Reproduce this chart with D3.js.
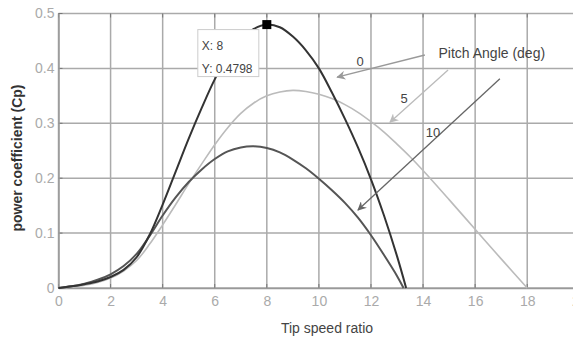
<!DOCTYPE html>
<html><head><meta charset="utf-8">
<script src="https://cdn.jsdelivr.net/npm/d3@7/dist/d3.min.js"></script>
<style>body{margin:0;background:#fff;overflow:hidden}svg{display:block}</style>
</head><body>
<script>
const xTicks = [0,2,4,6,8,10,12,14,16,18,20];
const yTicks = [0,0.1,0.2,0.3,0.4,0.5];
const yTickLabels = ["0","0.1","0.2","0.3","0.4","0.5"];
const x0 = [0,0.5,1,1.5,2,2.5,3,3.5,4,4.5,5,5.5,6,6.5,7,7.5,8,8.5,9,9.5,10,10.5,11,11.5,12,12.5,13,13.35];
const cp0 = [0,0.003,0.007,0.012,0.02,0.033,0.056,0.097,0.152,0.212,0.272,0.328,0.38,0.422,0.453,0.472,0.4798,0.475,0.458,0.433,0.40,0.356,0.308,0.256,0.198,0.132,0.058,0];
const x5 = [0,0.5,1,1.5,2,2.5,3,3.5,4,4.5,5,5.5,6,6.5,7,7.5,8,8.5,9,9.5,10,10.5,11,11.5,12,12.5,13,13.5,14,15,16,17,18];
const cp5 = [0,0.002,0.005,0.01,0.018,0.031,0.05,0.08,0.115,0.152,0.19,0.226,0.261,0.292,0.318,0.337,0.35,0.357,0.36,0.358,0.353,0.345,0.334,0.32,0.303,0.284,0.262,0.239,0.214,0.161,0.107,0.053,0];
const x10 = [0,0.5,1,1.5,2,2.5,3,3.5,4,4.5,5,5.5,6,6.5,7,7.5,8,8.5,9,9.5,10,10.5,11,11.5,12,12.5,13,13.25];
const cp10 = [0,0.003,0.008,0.015,0.025,0.04,0.062,0.095,0.132,0.165,0.193,0.216,0.235,0.249,0.256,0.258,0.255,0.247,0.234,0.218,0.199,0.178,0.155,0.128,0.096,0.06,0.022,0];
const peak = {x:8, y:0.4798};

const W=573,H=340;
const svg=d3.select("body").append("svg").attr("width",W).attr("height",H);
const x=d3.scaleLinear().domain([0,20]).range([58.5,579.3]);
const y=d3.scaleLinear().domain([0,0.5]).range([288,13.5]);
const gridC="#aaa";
const g=svg.append("g");
g.selectAll(".vg").data(xTicks).join("line").attr("x1",d=>x(d)).attr("x2",d=>x(d)).attr("y1",y(0.5)).attr("y2",y(0))
 .attr("stroke",gridC).attr("stroke-width",1.5);
g.selectAll(".hg").data(yTicks).join("line").attr("x1",x(0)).attr("x2",x(20)).attr("y1",d=>y(d)).attr("y2",d=>y(d))
 .attr("stroke",gridC).attr("stroke-width",1.5);
g.selectAll(".tt").data(xTicks).join("line").attr("x1",d=>x(d)).attr("x2",d=>x(d)).attr("y1",y(0.5)).attr("y2",y(0.5)+4).attr("stroke","#777").attr("stroke-width",1);
g.selectAll(".tb").data(xTicks).join("line").attr("x1",d=>x(d)).attr("x2",d=>x(d)).attr("y1",y(0)).attr("y2",y(0)-4).attr("stroke","#777").attr("stroke-width",1);
g.selectAll(".tl").data(yTicks).join("line").attr("x1",x(0)).attr("x2",x(0)+4).attr("y1",d=>y(d)).attr("y2",d=>y(d)).attr("stroke","#777").attr("stroke-width",1);

const xAxis=d3.axisBottom(x).tickValues(xTicks).tickSize(0).tickPadding(8).tickFormat(d3.format("d"));
const yAxis=d3.axisLeft(y).tickValues(yTicks).tickSize(0).tickPadding(4).tickFormat((d,i)=>yTickLabels[i]);
const ax=svg.append("g").attr("transform",`translate(0,${y(0)})`).call(xAxis);
const ay=svg.append("g").attr("transform",`translate(${x(0)},0)`).call(yAxis);
[ax,ay].forEach(a=>{a.select(".domain").attr("stroke","#999").attr("stroke-width",1.5);
 a.selectAll("text").attr("fill","#aaa").style("font-family","Liberation Sans, Arial, sans-serif").style("font-size","14px");});

const line=d3.line().x(d=>x(d[0])).y(d=>y(d[1])).curve(d3.curveCatmullRom.alpha(0.5));
function draw(xs,ys,c,w){svg.append("path").attr("d",line(xs.map((v,i)=>[v,ys[i]]))).attr("fill","none").attr("stroke",c).attr("stroke-width",w).attr("stroke-linejoin","round");}
draw(x5,cp5,"#bbb",1.6);
draw(x10,cp10,"#555",2);
draw(x0,cp0,"#333",2);

const defs=svg.append("defs");
function marker(id,c){defs.append("marker").attr("id",id).attr("viewBox","0 0 10 10").attr("refX",9).attr("refY",5)
 .attr("markerWidth",9).attr("markerHeight",9).attr("markerUnits","userSpaceOnUse").attr("orient","auto")
 .append("path").attr("d","M0,0 L10,5 L0,10 L3,5 Z").attr("fill",c);}
marker("a0","#999");marker("a5","#bbb");marker("a10","#666");
function arrow(x1,y1,x2,y2,c,id){svg.append("line").attr("x1",x(x1)).attr("y1",y(y1)).attr("x2",x(x2)).attr("y2",y(y2))
 .attr("stroke",c).attr("stroke-width",1.3).attr("marker-end",`url(#${id})`);}
arrow(14.07,0.4244,10.7,0.384,"#999","a0");
arrow(14.96,0.397,12.73,0.302,"#bbb","a5");
arrow(16.95,0.381,11.5,0.142,"#666","a10");
const tf="Liberation Sans, Arial, sans-serif";
function label(t,xx,yy,size,anchor){svg.append("text").attr("x",x(xx)).attr("y",y(yy)).attr("text-anchor",anchor||"middle")
 .attr("dominant-baseline","central").attr("fill","#444").style("font-family",tf).style("font-size",size+"px").text(t);}
label("0",11.58,0.412,13);
label("5",13.27,0.346,13);
label("10",14.38,0.284,13);
label("Pitch Angle (deg)",16.64,0.428,14);

const px=x(peak.x),py=y(peak.y);
svg.append("rect").attr("x",px-69).attr("y",py+5).attr("width",61).attr("height",47).attr("fill","#fff").attr("stroke","#ccc").attr("stroke-width",1);
svg.append("text").attr("x",px-65).attr("y",py+21).attr("dominant-baseline","central").attr("fill","#444").style("font-family",tf).style("font-size","12px").text("X: "+peak.x);
svg.append("text").attr("x",px-65).attr("y",py+44).attr("dominant-baseline","central").attr("fill","#444").style("font-family",tf).style("font-size","12px").text("Y: "+peak.y);
svg.append("rect").attr("x",px-4.5).attr("y",py-4.5).attr("width",9).attr("height",9).attr("fill","#000");

svg.append("text").attr("x",327).attr("y",328).attr("text-anchor","middle").attr("dominant-baseline","central")
 .attr("fill","#444").style("font-family",tf).style("font-size","14px").text("Tip speed ratio");
svg.append("text").attr("transform","translate(17,158) rotate(-90)").attr("text-anchor","middle").attr("dominant-baseline","central")
 .attr("fill","#333").style("font-family",tf).style("font-size","14px").style("font-weight","bold").text("power coefficient (Cp)");
</script>
</body></html>
